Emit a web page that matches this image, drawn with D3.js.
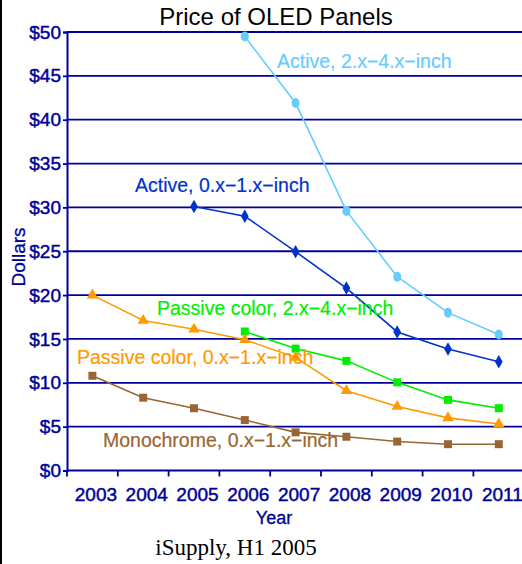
<!DOCTYPE html>
<html>
<head>
<meta charset="utf-8">
<script src="https://cdn.jsdelivr.net/npm/d3@7"></script>
<style>
  html, body { margin: 0; padding: 0; background: #fff; }
  svg { display: block; }
  .sans { font-family: "Liberation Sans", Arial, Helvetica, sans-serif; }
  .serif { font-family: "Liberation Serif", "Times New Roman", serif; }
</style>
</head>
<body>
<svg id="chart" width="522" height="564"></svg>
<script>
// Years on the x axis
const years = ["2003", "2004", "2005", "2006", "2007", "2008", "2009", "2010", "2011"];

// Price ticks on the y axis (dollars)
const priceTicks = [0, 5, 10, 15, 20, 25, 30, 35, 40, 45, 50];

// Panel prices per year, in dollars (null = no figure for that year)
const activeLarge   = [null, null, null, 49.5, 41.9, 29.6, 22.1, 18.0, 15.5];
const activeSmall   = [null, null, 30.1, 29.0, 24.95, 20.8, 15.8, 13.85, 12.4];
const passiveLarge  = [null, null, null, 15.85, 13.9, 12.5, 10.05, 8.05, 7.1];
const passiveSmall  = [20.0, 17.1, 16.1, 14.9, 12.9, 9.1, 7.3, 6.0, 5.3];
const monochrome    = [10.8, 8.3, 7.1, 5.75, 4.35, 3.85, 3.3, 3.0, 3.0];

// Series names, drawn as in-plot labels
const seriesNames = [
  "Active, 2.x\u22124.x\u2212inch",
  "Active, 0.x\u22121.x\u2212inch",
  "Passive color, 2.x\u22124.x\u2212inch",
  "Passive color, 0.x\u22121.x\u2212inch",
  "Monochrome, 0.x\u22121.x\u2212inch"
];

const svg = d3.select("#chart");
const navy = "#000099";

const series = [
  { values: activeLarge,  color: "#66ccff", marker: "ellipse",  label: { x: 277, y: 67.5 } },
  { values: activeSmall,  color: "#0033cc", marker: "diamond",  label: { x: 135, y: 191.5 } },
  { values: passiveLarge, color: "#00ee00", marker: "square",   label: { x: 157, y: 315 } },
  { values: passiveSmall, color: "#ff9900", marker: "triangle", label: { x: 77,  y: 363.5 } },
  { values: monochrome,   color: "#996633", marker: "square",   label: { x: 103, y: 446.5 } }
];

// Scales
const x = d3.scaleBand().domain(years).range([67, 524.2]).padding(0);
const y = d3.scaleLinear().domain([0, 50]).range([470.5, 32]);
const cx = d => x(d) + x.bandwidth() / 2;

// Frame edge on the left
svg.append("line")
  .attr("x1", 1).attr("x2", 1).attr("y1", 0).attr("y2", 564)
  .attr("stroke", "#000").attr("stroke-width", 2);

// Title
svg.append("text")
  .attr("class", "sans")
  .attr("x", 276).attr("y", 25)
  .attr("text-anchor", "middle")
  .attr("font-size", 24)
  .attr("fill", "#000")
  .text("Price of OLED Panels");

// Horizontal gridlines
svg.append("g")
  .selectAll("line")
  .data(priceTicks)
  .join("line")
  .attr("x1", 67).attr("x2", 522)
  .attr("y1", d => y(d)).attr("y2", d => y(d))
  .attr("stroke", navy)
  .attr("stroke-width", 1.8);

// Y axis
const yAxis = svg.append("g")
  .attr("transform", "translate(67,0)")
  .call(d3.axisLeft(y).tickValues(priceTicks).tickSize(4).tickPadding(2).tickFormat(d => "$" + d));
yAxis.select(".domain").attr("stroke", navy).attr("stroke-width", 2);
yAxis.selectAll(".tick line").attr("stroke", navy).attr("stroke-width", 1.8);
yAxis.selectAll(".tick text")
  .attr("class", "sans")
  .attr("fill", navy)
  .attr("stroke", navy)
  .attr("stroke-width", 0.45)
  .attr("font-size", 19);

// X axis: labels centred in each year, ticks on the year boundaries
const xAxis = svg.append("g")
  .attr("transform", `translate(0,${y(0)})`)
  .call(d3.axisBottom(x).tickSize(0).tickPadding(13));
xAxis.select(".domain").remove();
xAxis.selectAll(".tick text")
  .attr("class", "sans")
  .attr("fill", navy)
  .attr("stroke", navy)
  .attr("stroke-width", 0.45)
  .attr("font-size", 19)
  .attr("dx", 3.5)
  .attr("dy", "0.9em");

const boundaries = years.map(d => x(d)).concat([x(years[years.length - 1]) + x.bandwidth()]);
svg.append("g")
  .selectAll("line")
  .data(boundaries)
  .join("line")
  .attr("x1", d => d).attr("x2", d => d)
  .attr("y1", y(0)).attr("y2", y(0) + 6)
  .attr("stroke", navy).attr("stroke-width", 1.8);

// Axis titles
svg.append("text")
  .attr("class", "sans")
  .attr("transform", "translate(25,257) rotate(-90)")
  .attr("text-anchor", "middle")
  .attr("font-size", 19)
  .attr("fill", navy)
  .attr("stroke", navy)
  .attr("stroke-width", 0.3)
  .text("Dollars");

svg.append("text")
  .attr("class", "sans")
  .attr("x", 274).attr("y", 524)
  .attr("text-anchor", "middle")
  .attr("font-size", 18)
  .attr("fill", navy)
  .attr("stroke", navy)
  .attr("stroke-width", 0.3)
  .text("Year");

// Source note
svg.append("text")
  .attr("class", "serif")
  .attr("x", 236).attr("y", 555)
  .attr("text-anchor", "middle")
  .attr("font-size", 23)
  .attr("fill", "#000")
  .text("iSupply, H1 2005");

// Series lines and markers
const line = d3.line()
  .defined(d => d.v != null)
  .x(d => cx(d.year))
  .y(d => y(d.v));

const symbolFor = {
  diamond: d3.symbol().type(d3.symbolDiamond).size(52),
  square: d3.symbol().type(d3.symbolSquare).size(64),
  triangle: d3.symbol().type(d3.symbolTriangle).size(56)
};

series.forEach((s, i) => {
  const pts = years.map((yr, j) => ({ year: yr, v: s.values[j] }));
  const g = svg.append("g");
  g.append("path")
    .datum(pts)
    .attr("fill", "none")
    .attr("stroke", s.color)
    .attr("stroke-width", 1.6)
    .attr("d", line);

  const defined = pts.filter(d => d.v != null);
  if (s.marker === "ellipse") {
    g.selectAll("ellipse")
      .data(defined)
      .join("ellipse")
      .attr("cx", d => cx(d.year)).attr("cy", d => y(d.v))
      .attr("rx", 4).attr("ry", 5)
      .attr("fill", s.color);
  } else {
    g.selectAll("path.mk")
      .data(defined)
      .join("path")
      .attr("class", "mk")
      .attr("transform", d => `translate(${cx(d.year)},${y(d.v)})`)
      .attr("d", symbolFor[s.marker])
      .attr("fill", s.color);
  }

  svg.append("text")
    .attr("class", "sans")
    .attr("x", s.label.x).attr("y", s.label.y)
    .attr("font-size", 19.5)
    .attr("fill", s.color)
    .attr("stroke", s.color)
    .attr("stroke-width", 0.2)
    .text(seriesNames[i]);
});
</script>
</body>
</html>
